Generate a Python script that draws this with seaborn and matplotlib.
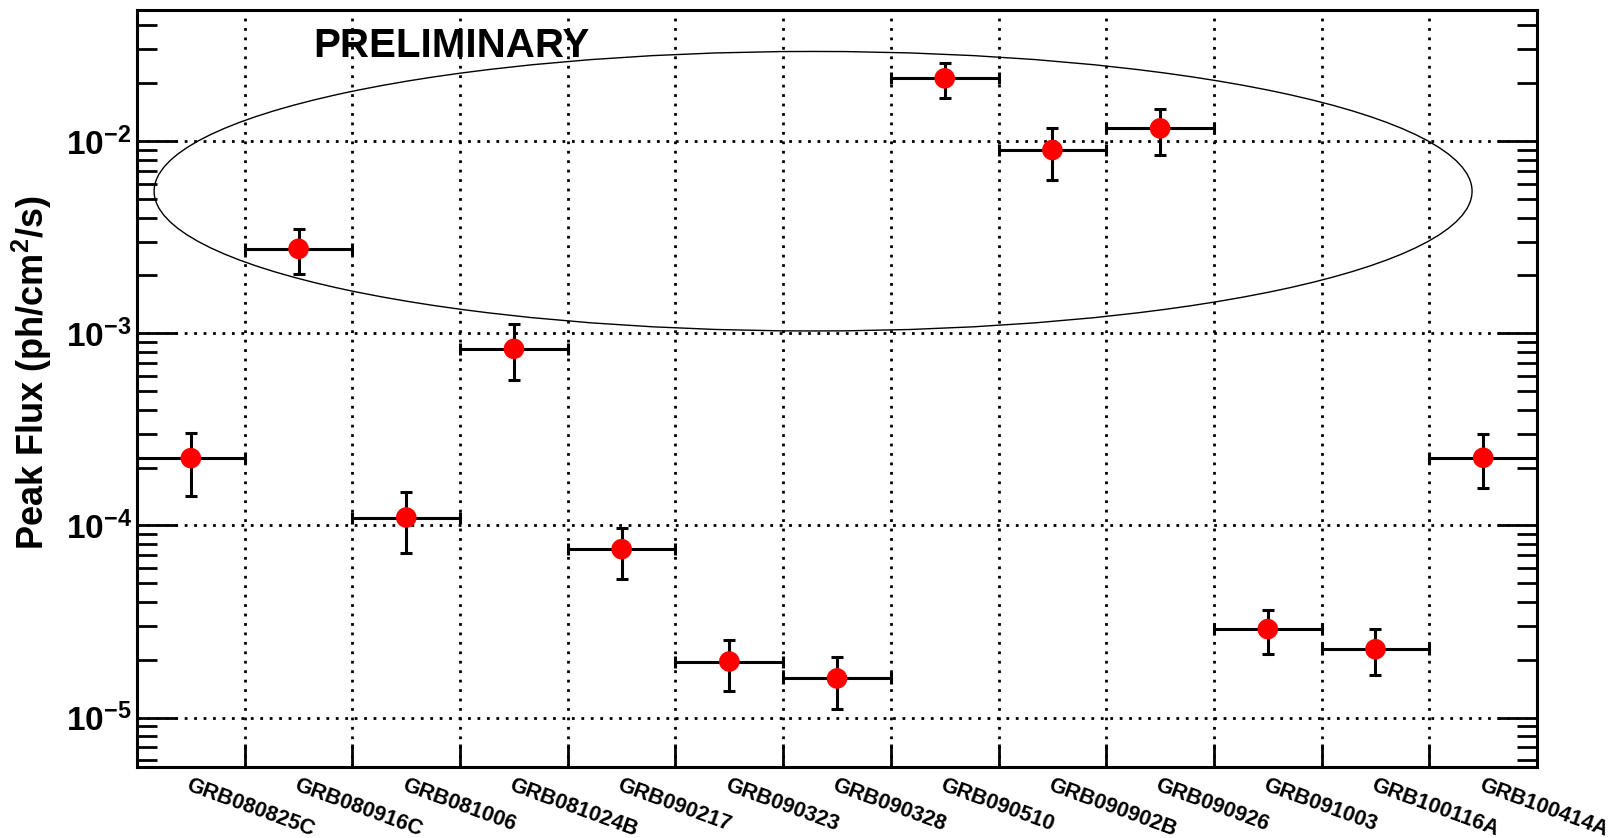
import matplotlib
matplotlib.use('Agg')
import matplotlib.pyplot as plt
import seaborn as sns
import numpy as np
import pandas as pd
from matplotlib.patches import Ellipse
from matplotlib import font_manager
from matplotlib.ticker import FixedLocator, LogLocator, NullFormatter

# ---------------- data ----------------
grbs = ["GRB080825C", "GRB080916C", "GRB081006", "GRB081024B", "GRB090217",
        "GRB090323", "GRB090328", "GRB090510", "GRB090902B", "GRB090926",
        "GRB091003", "GRB100116A", "GRB100414A"]
peak_flux = [2.24e-4, 2.75e-3, 1.10e-4, 8.30e-4, 7.53e-5, 1.96e-5, 1.60e-5,
             2.12e-2, 8.98e-3, 1.164e-2, 2.89e-5, 2.27e-5, 2.25e-4]
flux_upper = [3.02e-4, 3.49e-3, 1.49e-4, 1.12e-3, 9.76e-5, 2.53e-5, 2.06e-5,
              2.56e-2, 1.164e-2, 1.469e-2, 3.62e-5, 2.88e-5, 3.00e-4]
flux_lower = [1.42e-4, 2.03e-3, 7.23e-5, 5.69e-4, 5.29e-5, 1.38e-5, 1.11e-5,
              1.67e-2, 6.29e-3, 8.49e-3, 2.14e-5, 1.66e-5, 1.57e-4]
y_major = [1e-5, 1e-4, 1e-3, 1e-2]
y_major_labels = ["-5", "-4", "-3", "-2"]

# ---------------- style ----------------
sns.set_style("ticks")
names = {f.name for f in font_manager.fontManager.ttflist}
narrow = "Liberation Sans Narrow" if "Liberation Sans Narrow" in names else "Liberation Sans"
plt.rcParams['font.family'] = ['Liberation Sans', 'DejaVu Sans']
plt.rcParams['mathtext.fontset'] = 'custom'
plt.rcParams['mathtext.rm'] = 'Liberation Sans:bold'
plt.rcParams['mathtext.bf'] = 'Liberation Sans:bold'
plt.rcParams['mathtext.sf'] = narrow + ':bold'
plt.rcParams['mathtext.default'] = 'rm'
for key in ['text.color', 'axes.labelcolor', 'xtick.color', 'ytick.color',
            'axes.edgecolor']:
    plt.rcParams[key] = 'black'

df = pd.DataFrame({
    'grb': grbs,
    'x': np.arange(len(grbs)) + 0.5,
    'flux': peak_flux,
    'lo': flux_lower,
    'hi': flux_upper,
})

fig = plt.figure(figsize=(16.14, 8.38), dpi=100)
ax = fig.add_axes([0.0849, 0.0851, 0.8674, 0.9024])

ax.set_yscale('log')
ax.set_xlim(0, len(grbs))
ax.set_ylim(5.56e-6, 0.0478)

# error bars
ax.errorbar(df['x'], df['flux'],
            yerr=[df['flux'] - df['lo'], df['hi'] - df['flux']],
            xerr=0.5, fmt='none', ecolor='black', elinewidth=2.2,
            capsize=4.5, capthick=2.2, zorder=3)
sns.scatterplot(data=df, x='x', y='flux', ax=ax, color='red', s=220,
                edgecolor='none', linewidth=0, zorder=4, legend=False)

# y axis ticks
ax.yaxis.set_major_locator(FixedLocator(y_major))
ax.set_yticklabels([r'$\mathsf{10^{%s}}$' % s for s in y_major_labels])
ax.yaxis.set_minor_locator(LogLocator(base=10, subs=np.arange(2, 10), numticks=20))
ax.yaxis.set_minor_formatter(NullFormatter())
ax.tick_params(axis='y', which='major', direction='in', length=29, width=2,
               left=True, right=True, labelsize=24, pad=4, colors='black')
ax.tick_params(axis='y', which='minor', direction='in', length=14.5, width=2,
               left=True, right=True, colors='black')

# x axis: major ticks at bin edges, labels at bin centres
edges = np.arange(1, len(grbs))
ax.set_xticks(edges)
ax.set_xticklabels([])
ax.set_xticks(df['x'], minor=True)
ax.set_xticklabels(grbs, minor=True, rotation=-20, ha='left', va='top',
                   rotation_mode='anchor', fontsize=15.5, fontweight='bold',
                   color='black')
ax.tick_params(axis='x', which='major', direction='in', length=16.5, width=2,
               bottom=True, top=False, colors='black')
ax.tick_params(axis='x', which='minor', length=0, pad=6, bottom=True, top=False)

ax.set_xlabel('')
ax.set_ylabel('Peak Flux (ph/cm$^{2}$/s)', fontsize=26, fontweight='bold',
              va='center', color='black')
ax.yaxis.set_label_coords(-0.0751, 0.5206)

# grid
ax.set_axisbelow(True)
ax.grid(True, which='major', axis='both', color='black',
        linestyle=(0, (1, 2.4)), linewidth=2.0)
ax.grid(False, which='minor')

for sp in ax.spines.values():
    sp.set_visible(True)
    sp.set_linewidth(2.2)
    sp.set_color('black')

# ellipse highlight & preliminary label
ax.add_patch(Ellipse((0.4829, 0.761), 0.9414, 0.3696, transform=ax.transAxes,
                     fill=False, edgecolor='black', linewidth=1.0, zorder=2))
ax.text(0.1257, 0.9389, 'PRELIMINARY', transform=ax.transAxes,
        ha='left', va='baseline', fontsize=29, fontweight='bold',
        family=[narrow, 'Liberation Sans'], color='black', zorder=5)

fig.savefig('out.png', dpi=100, facecolor='white')
